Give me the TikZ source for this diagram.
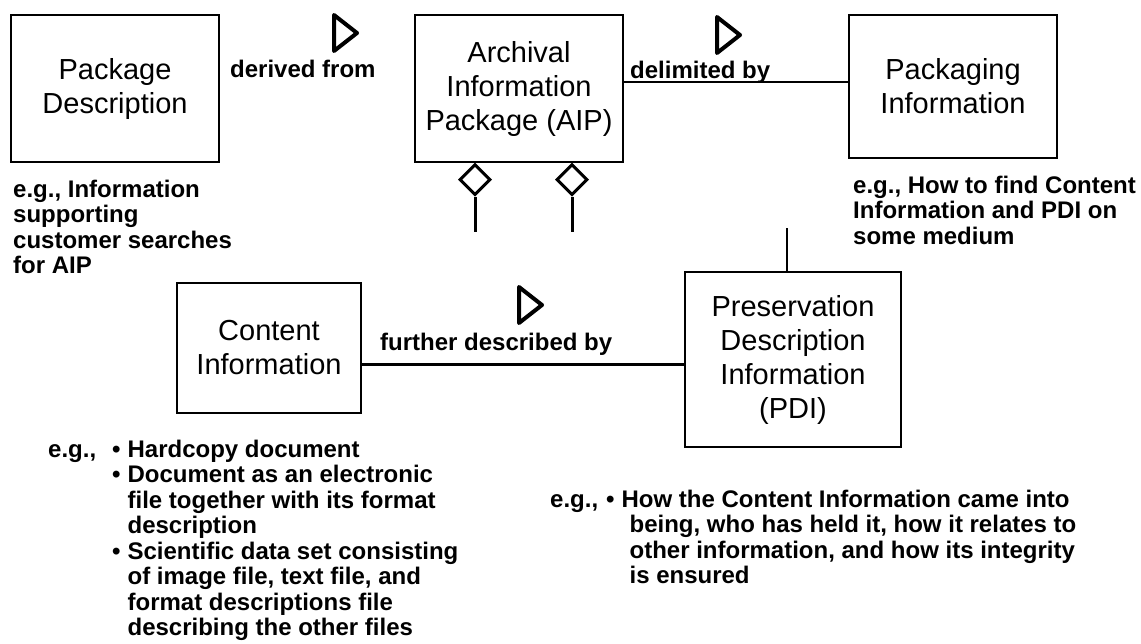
\documentclass[tikz,border=0pt]{standalone}
\usepackage{fontspec}
\setmainfont{Liberation Sans}
\usetikzlibrary{positioning, shapes.geometric}

\begin{document}
\begin{tikzpicture}
	[x=1pt, y=-1pt,
	 box/.style={draw, line width=1.4pt, align=center, inner sep=0pt, font=\fontsize{29}{34}\selectfont},
	 rel/.style={inner sep=0pt, anchor=base west, font=\bfseries\fontsize{24}{25}\selectfont},
	 note/.style={inner sep=0pt, anchor=base west, font=\bfseries\fontsize{24}{25.5}\selectfont},
	 link/.style={line width=2.5pt},
	 stub/.style={line width=3pt},
	 joint/.style={diamond, draw, line width=3pt, minimum size=31pt, inner sep=0pt},
	 readdir/.pic={\draw[line width=4pt, line join=round] (0,0) -- (23,18) -- (0,36) -- cycle;}]
   \useasboundingbox (0,0) rectangle (1141,643);
   \node[box, minimum width=208pt, minimum height=147pt] (pkgdesc) at (115,88.5) {Package\\Description};
   \node[box, minimum width=208pt, minimum height=147pt] (aip) at (519,88.5) {Archival\\Information\\Package (AIP)};
   \node[box, minimum width=208pt, minimum height=143pt] (packinfo) at (953,86.5) {Packaging\\Information};
   \node[box, minimum width=184pt, minimum height=130pt] (content) at (269,348) {Content\\Information};
   \node[box, minimum width=216pt, minimum height=175pt] (pdi) at (793,359.5) {Preservation\\Description\\Information\\(PDI)};
   \node[rel] (derived) at (230,77) {derived from};
   \node[rel] (delim) at (630,78) {delimited by};
   \node[rel] (further) at (380,350) {further described by};
   \pic at (334,15) {readdir};
   \pic at (717,17) {readdir};
   \pic at (519,287) {readdir};
   \node[joint, anchor=north] (aggr1) at ([xshift=-44pt]aip.south) {};
   \node[joint, anchor=north] (aggr2) at ([xshift=53pt]aip.south) {};
   \coordinate (stub1) at ([yshift=-35pt]aggr1.south);
   \coordinate (stub2) at ([yshift=-35pt]aggr2.south);
   \coordinate (pdistub) at (787,228);
   \node[note] (pkgnote) at (13,197) {\begin{tabular}[t]{@{}l@{}}e.g., Information\\supporting\\customer searches\\for AIP\end{tabular}};
   \node[note] (packnote) at (853,193) {\begin{tabular}[t]{@{}l@{}}e.g., How to find Content\\Information and PDI on\\some medium\end{tabular}};
   \node[note] (contentnote) at (48,457) {\begin{tabular}[t]{@{}l@{\hspace{16pt}}l@{\hspace{7pt}}l@{}}
      e.g., & • & Hardcopy document\\
       & • & Document as an electronic\\
       & & file together with its format\\
       & & description\\
       & • & Scientific data set consisting\\
       & & of image file, text file, and\\
       & & format descriptions file\\
       & & describing the other files
      \end{tabular}};
   \node[note] (pdinote) at (550,507) {\begin{tabular}[t]{@{}l@{\hspace{8pt}}l@{\hspace{7pt}}l@{}}
      e.g., & • & How the Content Information came into\\
       & & \hspace*{8pt}being, who has held it, how it relates to\\
       & & \hspace*{8pt}other information, and how its integrity\\
       & & \hspace*{8pt}is ensured
      \end{tabular}};
   \draw[link] ([yshift=6.5pt]aip.east) -- ([yshift=6.5pt]aip.east -| packinfo.west);
   \draw[link, line width=3pt] ([yshift=-16pt]content.east) -- ([yshift=-16pt]content.east -| pdi.west);
   \draw[stub] (aggr1.south) -- (stub1);
   \draw[stub] (aggr2.south) -- (stub2);
   \draw[stub, line width=2.5pt] (pdistub) -- (pdistub |- pdi.north);
\end{tikzpicture}
\end{document}
